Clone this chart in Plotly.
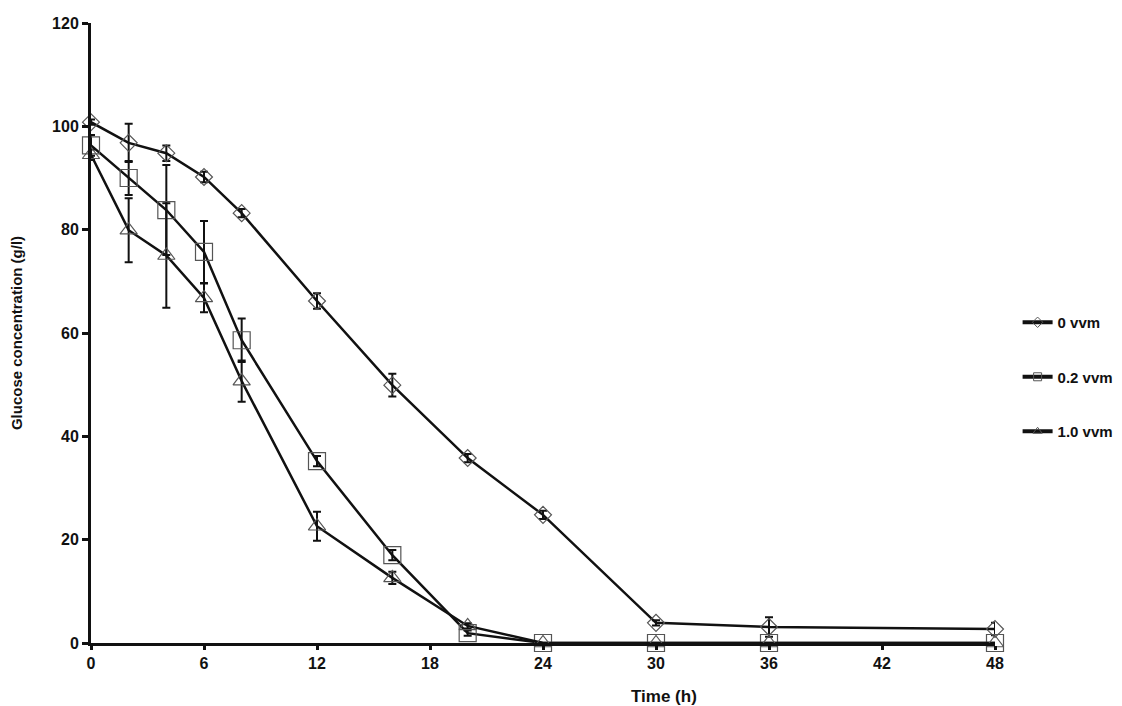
import plotly.graph_objects as go

time = [0, 2, 4, 6, 8, 12, 16, 20, 24, 30, 36, 48]
g0 = [100.8, 96.8, 94.8, 90.2, 83.2, 66.2, 49.9, 35.8, 24.8, 3.9, 3.1, 2.7]
e0 = [0.5, 3.7, 1.5, 1.0, 0.8, 1.5, 2.2, 0.8, 0.8, 0.5, 1.9, 1.2]
g02 = [96.3, 90.0, 83.8, 75.7, 58.6, 35.2, 17.0, 1.9, 0.0, 0.0, 0.0, 0.0]
e02 = [2.0, 3.3, 8.7, 6.0, 4.2, 1.0, 1.0, 0.5, 0.0, 0.0, 0.0, 0.0]
g10 = [94.5, 79.9, 75.0, 66.8, 50.7, 22.6, 12.6, 3.3, 0.0, 0.0, 0.0, 0.0]
e10 = [1.0, 6.2, 10.1, 2.8, 4.0, 2.8, 1.2, 0.5, 0.0, 0.0, 0.0, 0.0]

names = ["0 vvm", "0.2 vvm", "1.0 vvm"]
symbols = ["diamond-open", "square-open", "triangle-up-open"]
sizes = [13, 17, 15]

fig = go.Figure()
for name, y, e, sym, sz in zip(names, [g0, g02, g10], [e0, e02, e10], symbols, sizes):
    fig.add_trace(go.Scatter(
        x=time, y=y, name=name, legendgroup=name, showlegend=False,
        mode="lines+markers",
        line=dict(color="#111111", width=2.5),
        marker=dict(symbol=sym, size=sz, color="#555555",
                    line=dict(color="#555555", width=1.2)),
        error_y=dict(type="data", array=e, visible=True, color="#111111",
                     thickness=2, width=4),
        cliponaxis=False,
    ))
    # legend entry: thick line with small marker
    fig.add_trace(go.Scatter(
        x=[None], y=[None], name=name, legendgroup=name, showlegend=True,
        mode="lines+markers",
        line=dict(color="#111111", width=4),
        marker=dict(symbol=sym, size=8, color="#555555",
                    line=dict(color="#555555", width=1)),
    ))

tick_font = dict(size=16, family="Arial, Liberation Sans", weight="bold", color="#111111")

fig.update_layout(
    width=1114, height=698,
    margin=dict(l=83, r=127, t=15, b=63, autoexpand=False),
    paper_bgcolor="white", plot_bgcolor="white",
    font=dict(family="Arial, Liberation Sans, sans-serif", color="#111111"),
    showlegend=True,
    legend=dict(x=1.025, y=0.429, xanchor="left", yanchor="middle",
                font=dict(size=15, family="Arial, Liberation Sans", weight="bold", color="#111111"),
                tracegroupgap=32, itemwidth=30, bgcolor="rgba(0,0,0,0)"),
    xaxis=dict(range=[0, 48], tickvals=[0, 6, 12, 18, 24, 30, 36, 42, 48],
               showline=True, linecolor="#111111", linewidth=3,
               ticks="outside", ticklen=4, tickwidth=3, tickcolor="#111111",
               showgrid=False, zeroline=False, tickfont=tick_font),
    yaxis=dict(range=[0, 120], tickvals=[0, 20, 40, 60, 80, 100, 120],
               showline=True, linecolor="#111111", linewidth=3,
               ticks="outside", ticklen=6, tickwidth=3, tickcolor="#111111",
               showgrid=False, zeroline=False, tickfont=tick_font,
               title=dict(text="Glucose concentration (g/l)",
                          font=dict(size=15, family="Arial, Liberation Sans", weight="bold"),
                          standoff=26)),
)
fig.add_annotation(text="<b>Time (h)</b>", x=0.634, y=-0.087, xref="paper", yref="paper",
                   showarrow=False, xanchor="center", yanchor="middle",
                   font=dict(size=17, family="Arial, Liberation Sans"))

fig.write_html("out.html")
